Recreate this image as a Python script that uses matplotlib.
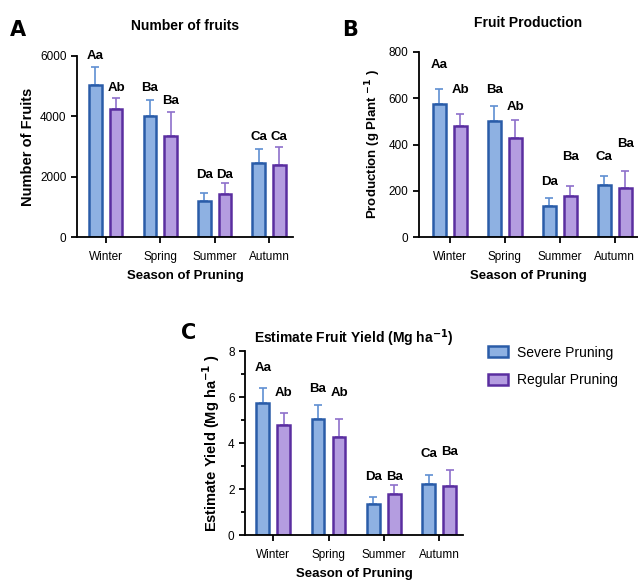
import matplotlib
matplotlib.use("Agg")
import matplotlib.pyplot as plt
from matplotlib.patches import Patch
from matplotlib.ticker import MultipleLocator

plt.rcParams['font.family'] = ['Liberation Sans', 'DejaVu Sans']

seasons = ["Winter", "Spring", "Summer", "Autumn"]

# A - number of fruits
fruits_severe = [5040, 3995, 1180, 2460]
fruits_severe_err = [590, 530, 280, 450]
fruits_regular = [4240, 3355, 1440, 2390]
fruits_regular_err = [380, 800, 350, 590]
fruits_lab_severe = ["Aa", "Ba", "Da", "Ca"]
fruits_lab_regular = ["Ab", "Ba", "Da", "Ca"]
fruits_lab_y_severe = [6000, 4930, 2070, 3320]
fruits_lab_y_regular = [4930, 4500, 2070, 3320]

# B - fruit production
prod_severe = [577, 502, 136, 223]
prod_severe_err = [62, 65, 32, 42]
prod_regular = [480, 430, 178, 213]
prod_regular_err = [52, 76, 43, 72]
prod_lab_severe = ["Aa", "Ba", "Da", "Ca"]
prod_lab_regular = ["Ab", "Ab", "Ba", "Ba"]
prod_lab_y_severe = [742, 637, 239, 347]
prod_lab_y_regular = [637, 561, 347, 401]

# C - estimated yield
yield_severe = [5.75, 5.03, 1.34, 2.22]
yield_severe_err = [0.62, 0.62, 0.32, 0.41]
yield_regular = [4.78, 4.27, 1.78, 2.14]
yield_regular_err = [0.52, 0.78, 0.41, 0.69]
yield_lab_severe = ["Aa", "Ba", "Da", "Ca"]
yield_lab_regular = ["Ab", "Ab", "Ba", "Ba"]
yield_lab_y_severe = [7.26, 6.35, 2.51, 3.51]
yield_lab_y_regular = [6.18, 6.18, 2.51, 3.62]

SEV_FILL, SEV_EDGE, SEV_ERR = "#8eb1e2", "#2a5ca8", "#5f8fd2"
REG_FILL, REG_EDGE, REG_ERR = "#b49de0", "#5a2ea0", "#8d6fcb"

W, H = 638, 581
fig = plt.figure(figsize=(W / 100, H / 100), dpi=100)


def px_axes(left, right, top, bottom):
    return fig.add_axes([left / W, 1 - bottom / H, (right - left) / W, (bottom - top) / H])


def panel(ax, sev, sev_err, reg, reg_err, lab_s, lab_r, laby_s, laby_r,
          ymax, ystep, xlim, title, ylabel, title_pad, ylab_size):
    x = list(range(len(seasons)))
    xs = [i - 0.19 for i in x]
    xr = [i + 0.19 for i in x]
    ax.bar(xs, sev, width=0.23, color=SEV_FILL, edgecolor=SEV_EDGE, linewidth=1.8, zorder=2)
    ax.bar(xr, reg, width=0.23, color=REG_FILL, edgecolor=REG_EDGE, linewidth=1.8, zorder=2)
    ax.errorbar(xs, sev, yerr=[[0] * 4, sev_err], fmt="none", ecolor=SEV_ERR,
                elinewidth=1.2, capsize=3, capthick=1.2, zorder=1)
    ax.errorbar(xr, reg, yerr=[[0] * 4, reg_err], fmt="none", ecolor=REG_ERR,
                elinewidth=1.2, capsize=3, capthick=1.2, zorder=1)
    for i in x:
        ax.text(xs[i], laby_s[i], lab_s[i], ha="center", va="center",
                fontsize=9.5, fontweight="bold")
        ax.text(xr[i], laby_r[i], lab_r[i], ha="center", va="center",
                fontsize=9.5, fontweight="bold")
    ax.set_ylim(0, ymax)
    ax.set_xlim(*xlim)
    ax.yaxis.set_major_locator(MultipleLocator(ystep))
    ax.set_xticks(x)
    ax.set_xticklabels(seasons)
    ax.spines["top"].set_visible(False)
    ax.spines["right"].set_visible(False)
    ax.spines["left"].set_linewidth(1.3)
    ax.spines["bottom"].set_linewidth(1.3)
    ax.tick_params(axis="both", labelsize=8.5, width=1.3, length=4)
    ax.tick_params(axis="x", pad=6)
    ax.set_xlabel("Season of Pruning", fontsize=9.5, fontweight="bold", labelpad=5)
    ax.set_ylabel(ylabel, fontsize=ylab_size, fontweight="bold", labelpad=4)
    ax.set_title(title, fontsize=10, fontweight="bold", pad=title_pad)


axA = px_axes(77, 293, 56, 237)
panel(axA, fruits_severe, fruits_severe_err, fruits_regular, fruits_regular_err,
      fruits_lab_severe, fruits_lab_regular, fruits_lab_y_severe, fruits_lab_y_regular,
      6000, 2000, (-0.53, 3.44), "Number of fruits", "Number of Fruits", 19, 10.5)

axB = px_axes(419, 638, 52, 237)
panel(axB, prod_severe, prod_severe_err, prod_regular, prod_regular_err,
      prod_lab_severe, prod_lab_regular, prod_lab_y_severe, prod_lab_y_regular,
      800, 200, (-0.56, 3.42), "Fruit Production", r"Production (g Plant $^{\mathbf{-1}}$ )",
      18, 9.5)

axC = px_axes(245, 463, 351, 535)
panel(axC, yield_severe, yield_severe_err, yield_regular, yield_regular_err,
      yield_lab_severe, yield_lab_regular, yield_lab_y_severe, yield_lab_y_regular,
      8, 2, (-0.51, 3.43), r"Estimate Fruit Yield (Mg ha$^{\mathbf{-1}}$)",
      r"Estimate Yield (Mg ha$^{\mathbf{-1}}$ )", 6, 10.5)
axC.yaxis.set_minor_locator(MultipleLocator(1))
axC.tick_params(axis="y", which="minor", width=1.3, length=3)

for lbl, (xp, yp) in zip(["A", "B", "C"], [(18, 30), (350, 30), (189, 333)]):
    fig.text(xp / W, 1 - yp / H, lbl, fontsize=15, fontweight="bold",
             family="DejaVu Sans", ha="center", va="center")

handles = [Patch(facecolor=SEV_FILL, edgecolor=SEV_EDGE, linewidth=1.8, label="Severe Pruning"),
           Patch(facecolor=REG_FILL, edgecolor=REG_EDGE, linewidth=1.8, label="Regular Pruning")]
fig.legend(handles=handles, loc="upper left", bbox_to_anchor=(482 / W, 1 - 340 / H),
           frameon=False, fontsize=10, handlelength=1.5, handleheight=0.85,
           labelspacing=1.0, handletextpad=0.6, borderaxespad=0)

fig.savefig("out.png", dpi=100)
